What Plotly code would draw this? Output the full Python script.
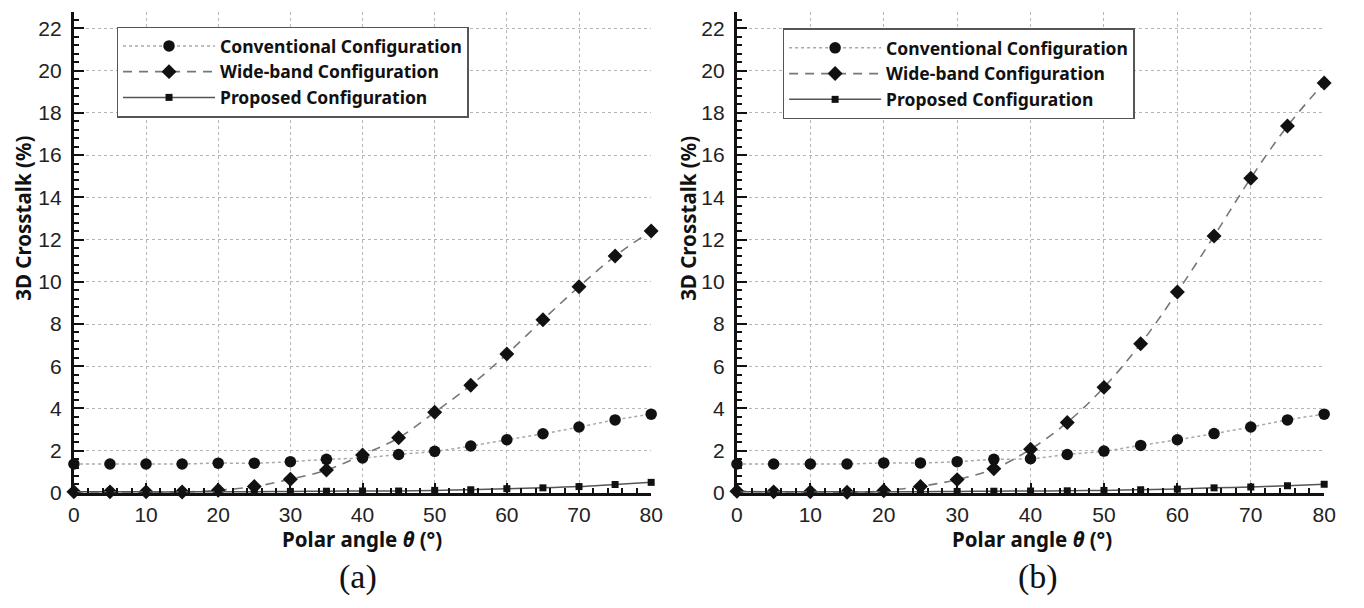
import plotly.graph_objects as go

theta = [0, 5, 10, 15, 20, 25, 30, 35, 40, 45, 50, 55, 60, 65, 70, 75, 80]

conv_a = [1.37, 1.37, 1.37, 1.37, 1.41, 1.41, 1.48, 1.59, 1.66, 1.82, 1.97, 2.22, 2.52, 2.80, 3.12, 3.46, 3.73]
wide_a = [0.05, 0.05, 0.05, 0.04, 0.13, 0.30, 0.65, 1.08, 1.80, 2.61, 3.82, 5.10, 6.58, 8.20, 9.77, 11.22, 12.41]
prop_a = [0.05, 0.05, 0.05, 0.05, 0.06, 0.06, 0.07, 0.08, 0.09, 0.09, 0.12, 0.15, 0.20, 0.24, 0.30, 0.40, 0.50]

conv_b = [1.37, 1.37, 1.37, 1.37, 1.42, 1.42, 1.48, 1.59, 1.62, 1.82, 1.98, 2.25, 2.52, 2.81, 3.12, 3.46, 3.73]
wide_b = [0.08, 0.05, 0.05, 0.03, 0.10, 0.31, 0.63, 1.14, 2.07, 3.34, 5.00, 7.07, 9.52, 12.17, 14.91, 17.38, 19.42]
prop_b = [0.05, 0.05, 0.05, 0.05, 0.05, 0.06, 0.07, 0.08, 0.09, 0.10, 0.12, 0.15, 0.18, 0.24, 0.28, 0.34, 0.41]

names = ["Conventional Configuration", "Wide-band Configuration", "Proposed Configuration"]
panel_labels = ["(a)", "(b)"]
x_title = "Polar angle <i>θ</i> (°)"
y_title = "3D Crosstalk (%)"

W, H = 1364, 608
fig = go.Figure()

styles = [
    dict(line=dict(color="#a8a8a8", width=1.5, dash="dot", shape="spline"),
         marker=dict(symbol="circle", size=11.5, color="#111")),
    dict(line=dict(color="#777777", width=1.6, dash="9px,7px", shape="spline"),
         marker=dict(symbol="diamond", size=11.5, color="#111")),
    dict(line=dict(color="#555555", width=1.5, shape="spline"),
         marker=dict(symbol="square", size=7, color="#111")),
]

panels = [
    ((conv_a, wide_a, prop_a), "x", "y", "legend"),
    ((conv_b, wide_b, prop_b), "x2", "y2", "legend2"),
]
for series, xa, ya, lg in panels:
    for i, ys in enumerate(series):
        fig.add_trace(go.Scatter(
            x=theta, y=ys, mode="lines+markers", name=names[i],
            xaxis=xa, yaxis=ya, legend=lg, cliponaxis=False,
            line=styles[i]["line"], marker=styles[i]["marker"],
        ))

tickfont = dict(family="Liberation Sans, Arial", size=21, color="#222")
common_x = dict(
    range=[0, 80], tick0=0, dtick=10, showline=True, linewidth=3, linecolor="#111",
    ticks="inside", ticklen=10, tickwidth=2, tickcolor="#111",
    minor=dict(ticks="inside", dtick=2, ticklen=5, tickwidth=1.5, tickcolor="#111", showgrid=False),
    showgrid=True, gridcolor="#b5b5b5", griddash="dot", gridwidth=1,
    zeroline=False, tickfont=tickfont, fixedrange=True, ticklabelstandoff=1,
)
common_y = dict(
    range=[0, 22.8], tick0=0, dtick=2, showline=True, linewidth=3, linecolor="#111",
    ticks="inside", ticklen=10, tickwidth=2, tickcolor="#111",
    minor=dict(ticks="inside", dtick=0.4, ticklen=5, tickwidth=1.5, tickcolor="#111", showgrid=False),
    showgrid=True, gridcolor="#b5b5b5", griddash="dot", gridwidth=1,
    zeroline=False, tickfont=tickfont, fixedrange=True, ticklabelstandoff=5,
)

ydom = [(608 - 502) / H, (608 - 11.8) / H]
fig.update_layout(
    width=W, height=H,
    margin=dict(l=0, r=0, t=0, b=0),
    paper_bgcolor="white", plot_bgcolor="white",
    xaxis=dict(common_x, domain=[68.8 / W, 653.8 / W], anchor="y"),
    yaxis=dict(common_y, domain=ydom, anchor="x"),
    xaxis2=dict(common_x, domain=[740.7 / W, 1335.8 / W], anchor="y2"),
    yaxis2=dict(common_y, domain=ydom, anchor="x2"),
    showlegend=True,
)

legend_common = dict(
    xanchor="left", yanchor="top",
    bgcolor="white", bordercolor="#555", borderwidth=1.5,
    font=dict(family="Noto Sans, Open Sans", size=17.5, color="#111", weight="bold"),
    itemwidth=92, tracegroupgap=0, itemclick=False, itemdoubleclick=False,
)
fig.update_layout(
    legend=dict(legend_common, x=112 / W, y=1 - 27 / H),
    legend2=dict(legend_common, x=787 / W, y=1 - 29 / H),
)

title_font = dict(family="Noto Sans, Open Sans", size=20.5, color="#111", weight="bold")
annots = []
for cx, tx in [(361, 17), (1040, 691)]:
    annots.append(dict(text=x_title, x=cx / W, y=1 - 549 / H, xref="paper", yref="paper",
                       xanchor="center", yanchor="middle", showarrow=False, font=title_font))
    annots.append(dict(text=y_title, x=tx / W, y=1 - 222 / H, xref="paper", yref="paper",
                       xanchor="center", yanchor="middle", showarrow=False, textangle=-90,
                       font=title_font))
for lbl, cx in zip(panel_labels, [357, 1046]):
    annots.append(dict(text=lbl, x=cx / W, y=1 - 588 / H, xref="paper", yref="paper",
                       xanchor="center", yanchor="middle", showarrow=False,
                       font=dict(family="Liberation Serif, Times New Roman", size=34, color="#111")))
fig.update_layout(annotations=annots)

fig.write_html("out.html")
